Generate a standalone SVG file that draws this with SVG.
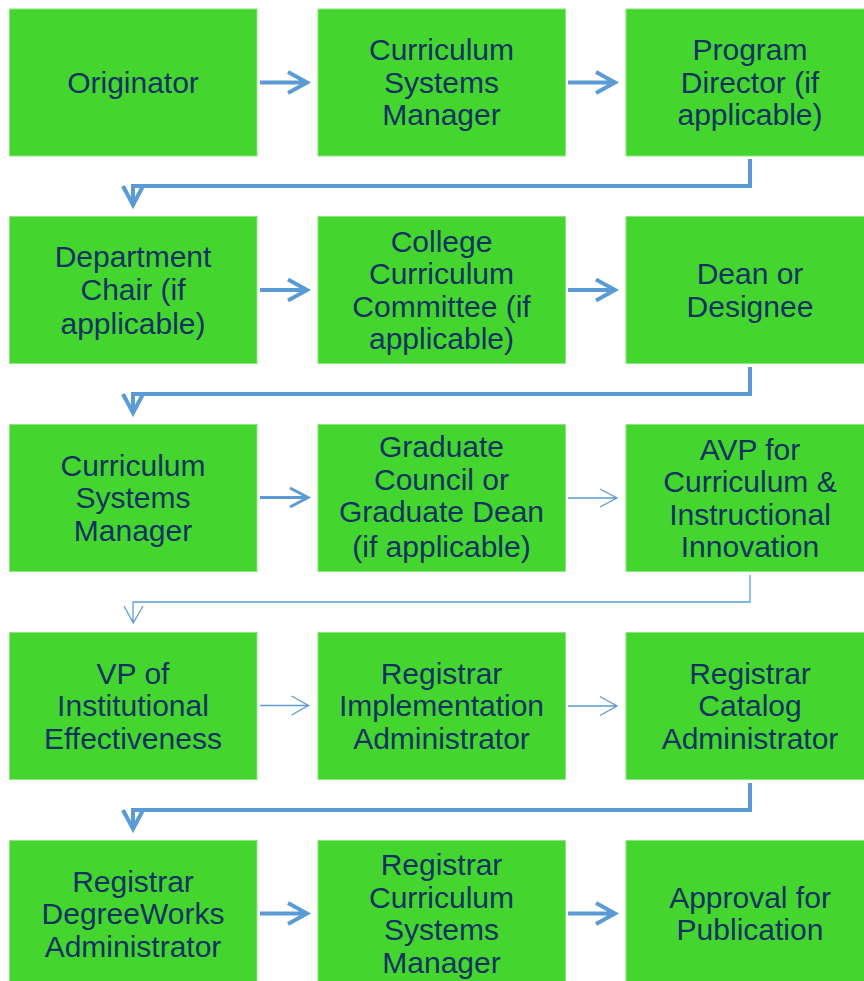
<svg xmlns="http://www.w3.org/2000/svg" width="864" height="981" viewBox="0 0 864 981">
<style>
.box{fill:#44D62E;stroke:#8AE77C;stroke-width:1}
.t{font-family:"Liberation Sans",Arial,sans-serif;font-size:30px;fill:#0F3260;text-anchor:middle}
.thick{fill:none;stroke:#5B9BD5;stroke-width:4;stroke-linejoin:miter;stroke-linecap:butt}
.mid{fill:none;stroke:#5B9BD5;stroke-width:3;stroke-linecap:butt}
.thin{fill:none;stroke:#5B9BD5;stroke-width:1.3;stroke-linecap:butt}
</style>
<rect width="864" height="981" fill="#FFFFFF"/>
<g id="n1"><rect class="box" x="9.5" y="9" width="247.5" height="147"/><text class="t" x="133" y="93">Originator</text></g>
<g id="n2"><rect class="box" x="318" y="9" width="247.5" height="147"/><text class="t" x="441.5" y="60">Curriculum</text><text class="t" x="441.5" y="92.5">Systems</text><text class="t" x="441.5" y="125">Manager</text></g>
<g id="n3"><rect class="box" x="626" y="9" width="247.5" height="147"/><text class="t" x="750" y="60">Program</text><text class="t" x="750" y="92.5">Director (if</text><text class="t" x="750" y="125">applicable)</text></g>
<g id="n4"><rect class="box" x="9.5" y="216.5" width="247.5" height="147"/><text class="t" x="133" y="267">Department</text><text class="t" x="133" y="299.5">Chair (if</text><text class="t" x="133" y="334">applicable)</text></g>
<g id="n5"><rect class="box" x="318" y="216.5" width="247.5" height="147"/><text class="t" x="441.5" y="251.5">College</text><text class="t" x="441.5" y="284">Curriculum</text><text class="t" x="441.5" y="316.5">Committee (if</text><text class="t" x="441.5" y="349">applicable)</text></g>
<g id="n6"><rect class="box" x="626" y="216.5" width="247.5" height="147"/><text class="t" x="750" y="284">Dean or</text><text class="t" x="750" y="316.5">Designee</text></g>
<g id="n7"><rect class="box" x="9.5" y="424.5" width="247.5" height="147"/><text class="t" x="133" y="475.5">Curriculum</text><text class="t" x="133" y="508">Systems</text><text class="t" x="133" y="540.5">Manager</text></g>
<g id="n8"><rect class="box" x="318" y="424.5" width="247.5" height="147"/><text class="t" x="441.5" y="457">Graduate</text><text class="t" x="441.5" y="489.5">Council or</text><text class="t" x="441.5" y="522">Graduate Dean</text><text class="t" x="441.5" y="556.5">(if applicable)</text></g>
<g id="n9"><rect class="box" x="626" y="424.5" width="247.5" height="147"/><text class="t" x="750" y="459.5">AVP for</text><text class="t" x="750" y="492">Curriculum &amp;</text><text class="t" x="750" y="524.5">Instructional</text><text class="t" x="750" y="557">Innovation</text></g>
<g id="n10"><rect class="box" x="9.5" y="632.5" width="247.5" height="147"/><text class="t" x="133" y="683.5">VP of</text><text class="t" x="133" y="716">Institutional</text><text class="t" x="133" y="748.5">Effectiveness</text></g>
<g id="n11"><rect class="box" x="318" y="632.5" width="247.5" height="147"/><text class="t" x="441.5" y="683.5">Registrar</text><text class="t" x="441.5" y="716">Implementation</text><text class="t" x="441.5" y="748.5">Administrator</text></g>
<g id="n12"><rect class="box" x="626" y="632.5" width="247.5" height="147"/><text class="t" x="750" y="683.5">Registrar</text><text class="t" x="750" y="716">Catalog</text><text class="t" x="750" y="748.5">Administrator</text></g>
<g id="n13"><rect class="box" x="9.5" y="840.5" width="247.5" height="147"/><text class="t" x="133" y="891.5">Registrar</text><text class="t" x="133" y="924">DegreeWorks</text><text class="t" x="133" y="956.5">Administrator</text></g>
<g id="n14"><rect class="box" x="318" y="840.5" width="247.5" height="147"/><text class="t" x="441.5" y="875">Registrar</text><text class="t" x="441.5" y="907.5">Curriculum</text><text class="t" x="441.5" y="940">Systems</text><text class="t" x="441.5" y="972.5">Manager</text></g>
<g id="n15"><rect class="box" x="626" y="840.5" width="247.5" height="147"/><text class="t" x="750" y="907.5">Approval for</text><text class="t" x="750" y="940">Publication</text></g>
<g id="connectors">
<path class="thick" d="M260 82.5H307 M288 72L307 82.5L288 93"/>
<path class="thick" d="M568 82.5H615 M596 72L615 82.5L596 93"/>
<path class="thick" d="M750 159V186H133V206 M123 186L133 205L143 186"/>
<path class="thick" d="M260 290H307 M288 279.5L307 290L288 300.5"/>
<path class="thick" d="M568 290H615 M596 279.5L615 290L596 300.5"/>
<path class="thick" d="M750 367V394H133V413 M123 394L133 413L143 394"/>
<path class="mid" d="M260 497.5H307.5 M290 488L308 497.5L290 507"/>
<path class="thin" d="M568 498H616.5 M600 489L617 498L600 507"/>
<path class="thin" d="M750 575V602H133V623 M124 606L133.3 623L143 606"/>
<path class="thin" d="M260 705.5H308 M291.5 696L308.5 705.5L291.5 715"/>
<path class="thin" d="M568 706H616.5 M600 696.5L617 706L600 715.5"/>
<path class="thick" d="M750 783V810H133V829 M123 810L133 829L143 810"/>
<path class="thick" d="M260 913.5H307 M288 903L307 913.5L288 924"/>
<path class="thick" d="M568 913.5H615 M596 903L615 913.5L596 924"/>
</g>
</svg>
